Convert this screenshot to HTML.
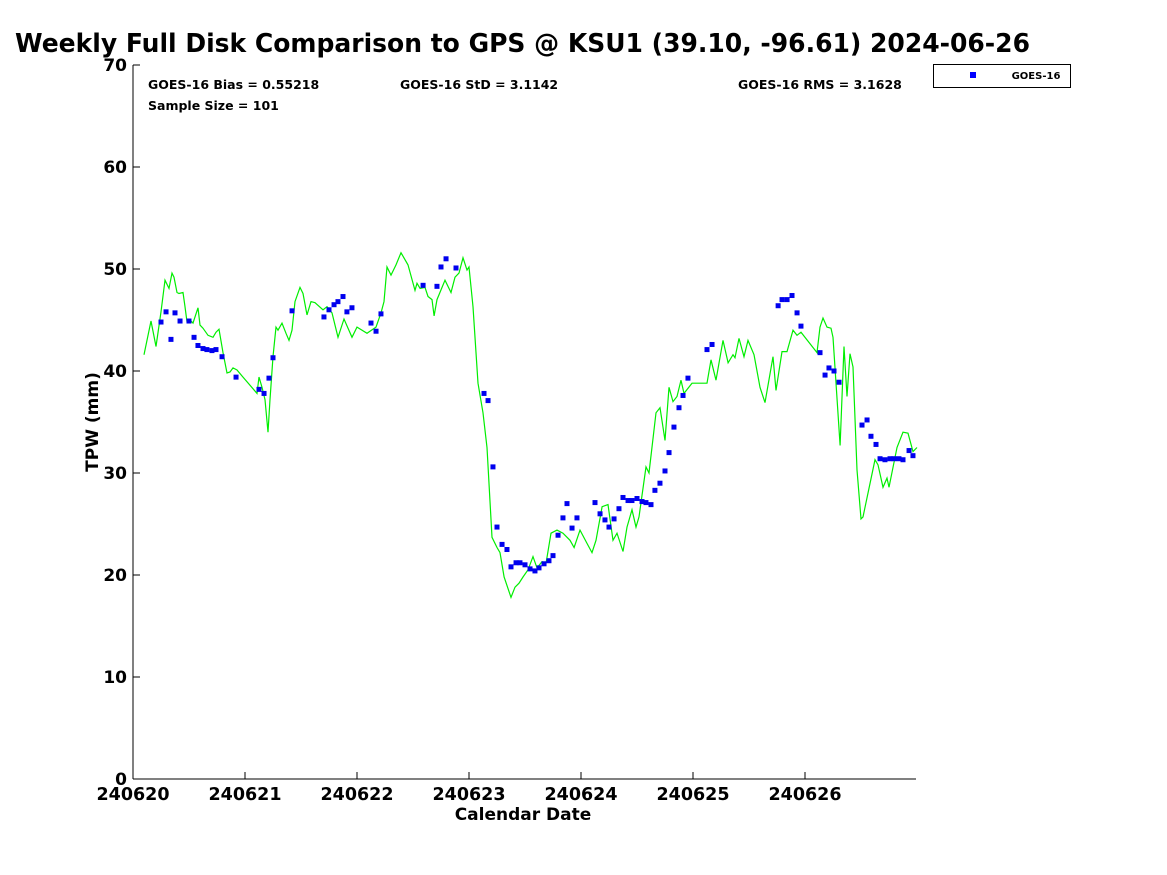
<!DOCTYPE html>
<html><head><meta charset="utf-8"><style>
body{margin:0;background:#fff;}
svg{display:block;font-family:"DejaVu Sans","Liberation Sans",sans-serif;}
</style></head><body>
<svg id="chart" width="1167" height="875" viewBox="0 0 1167 875">
<rect width="1167" height="875" fill="#fff"/>
<text x="15" y="52" font-size="25.5" font-weight="bold" fill="#000" textLength="1015" lengthAdjust="spacingAndGlyphs">Weekly Full Disk Comparison to GPS @ KSU1 (39.10, -96.61) 2024-06-26</text>
<g font-size="12.5" font-weight="bold">
<text x="148" y="89">GOES-16 Bias = 0.55218</text>
<text x="400" y="89">GOES-16 StD = 3.1142</text>
<text x="738" y="89">GOES-16 RMS = 3.1628</text>
<text x="148" y="110">Sample Size = 101</text>
</g>
<g id="axes"></g>
<g id="marks"></g>
<g>
<rect x="933.5" y="64.5" width="137" height="23" fill="#fff" stroke="#000" stroke-width="1"/>
<rect x="970" y="72" width="6" height="6" fill="#0000ff"/>
<text x="1036" y="79" font-size="10" font-weight="bold" text-anchor="middle">GOES-16</text>
</g>
<text transform="translate(98,422) rotate(-90)" font-size="17" font-weight="bold" text-anchor="middle">TPW (mm)</text>
<text x="523" y="820" font-size="17" font-weight="bold" text-anchor="middle">Calendar Date</text>
</svg>
<script>
const xTickLabels=["240620","240621","240622","240623","240624","240625","240626"];
const yTickValues=[0,10,20,30,40,50,60,70];
const gpsDays=[.098,.161,.205,.25,.286,.321,.348,.366,.393,.411,.446,.464,.482,.509,.536,.554,.58,.598,.625,.67,.714,.741,.768,.804,.839,.866,.893,.929,.982,1.107,1.125,1.152,1.179,1.205,1.223,1.25,1.277,1.295,1.33,1.366,1.393,1.42,1.446,1.491,1.518,1.554,1.589,1.625,1.696,1.732,1.777,1.83,1.884,1.955,2.0,2.089,2.17,2.214,2.241,2.268,2.304,2.348,2.393,2.455,2.518,2.536,2.563,2.607,2.634,2.67,2.688,2.714,2.786,2.839,2.875,2.911,2.946,2.982,3.0,3.036,3.08,3.125,3.161,3.205,3.25,3.277,3.313,3.375,3.411,3.446,3.482,3.527,3.571,3.607,3.652,3.688,3.732,3.786,3.839,3.902,3.938,3.991,4.054,4.098,4.134,4.188,4.241,4.286,4.321,4.375,4.411,4.455,4.491,4.518,4.58,4.607,4.67,4.705,4.75,4.786,4.821,4.857,4.893,4.92,4.991,5.125,5.161,5.205,5.268,5.313,5.357,5.375,5.411,5.455,5.491,5.545,5.598,5.643,5.714,5.741,5.795,5.839,5.893,5.929,5.964,6.107,6.134,6.161,6.196,6.232,6.25,6.313,6.348,6.375,6.402,6.429,6.464,6.5,6.518,6.625,6.652,6.696,6.732,6.75,6.821,6.875,6.92,6.964,7.0];
const gpsTpw=[41.6,44.9,42.4,45.8,48.9,48.1,49.6,49.2,47.7,47.6,47.7,46.3,44.8,45.0,44.7,45.3,46.2,44.5,44.2,43.5,43.3,43.8,44.1,41.8,39.8,39.9,40.3,40.1,39.4,37.8,39.4,38.4,37.2,34.0,37.2,41.4,44.3,44.0,44.7,43.7,43.0,44.0,46.8,48.2,47.6,45.5,46.8,46.7,46.0,46.3,45.7,43.3,45.1,43.3,44.3,43.7,44.3,45.7,46.8,50.2,49.4,50.4,51.6,50.4,47.9,48.6,48.1,48.2,47.3,47.0,45.4,47.0,48.9,47.7,49.2,49.6,51.1,49.9,50.2,46.3,38.8,35.9,32.5,23.7,22.7,22.2,19.8,17.8,18.8,19.2,19.8,20.5,21.8,20.7,21.3,21.2,24.1,24.4,24.1,23.4,22.7,24.4,23.1,22.2,23.4,26.7,26.9,23.4,24.1,22.3,24.7,26.4,24.7,25.7,30.6,30.0,35.9,36.4,33.2,38.4,37.0,37.5,39.1,37.8,38.8,38.8,41.1,39.1,43.0,40.8,41.6,41.3,43.2,41.4,43.0,41.6,38.4,36.9,41.4,38.1,41.9,41.9,44.0,43.5,43.8,41.8,44.3,45.2,44.3,44.2,43.3,32.7,42.4,37.5,41.7,40.4,30.3,25.5,25.7,31.3,30.8,28.6,29.5,28.6,32.5,34.0,33.9,32.1,32.5];
const goesDays=[.25,.295,.339,.375,.42,.5,.545,.58,.625,.66,.705,.741,.795,.92,1.125,1.17,1.214,1.25,1.42,1.705,1.75,1.795,1.83,1.875,1.91,1.955,2.125,2.17,2.214,2.59,2.714,2.75,2.795,2.884,3.134,3.17,3.214,3.25,3.295,3.339,3.375,3.42,3.455,3.5,3.545,3.589,3.625,3.67,3.714,3.75,3.795,3.839,3.875,3.92,3.964,4.125,4.17,4.214,4.25,4.295,4.339,4.375,4.42,4.455,4.5,4.545,4.58,4.625,4.66,4.705,4.75,4.786,4.83,4.875,4.911,4.955,5.125,5.17,5.76,5.795,5.84,5.884,5.929,5.964,6.134,6.179,6.214,6.259,6.304,6.509,6.554,6.589,6.634,6.67,6.714,6.759,6.795,6.839,6.875,6.929,6.964];
const goesTpw=[44.8,45.8,43.1,45.7,44.9,44.9,43.3,42.5,42.2,42.1,42.0,42.1,41.4,39.4,38.2,37.8,39.3,41.3,45.9,45.3,46.0,46.5,46.8,47.3,45.8,46.2,44.7,43.9,45.6,48.4,48.3,50.2,51.0,50.1,37.8,37.1,30.6,24.7,23.0,22.5,20.8,21.2,21.2,21.0,20.6,20.4,20.7,21.1,21.4,21.9,23.9,25.6,27.0,24.6,25.6,27.1,26.0,25.4,24.7,25.5,26.5,27.6,27.3,27.3,27.5,27.2,27.1,26.9,28.3,29.0,30.2,32.0,34.5,36.4,37.6,39.3,42.1,42.6,46.4,47.0,47.0,47.4,45.7,44.4,41.8,39.6,40.3,40.0,38.9,34.7,35.2,33.6,32.8,31.4,31.3,31.4,31.4,31.4,31.3,32.2,31.7];

const NS='http://www.w3.org/2000/svg';
const L=133,R=916,T=65,B=779;
const xS=d=>L+d*112;
const yS=v=>B-(v/70)*(B-T);
function mk(tag,attrs,parent){const e=document.createElementNS(NS,tag);for(const k in attrs)e.setAttribute(k,attrs[k]);parent.appendChild(e);return e;}
const axes=document.getElementById('axes'),marks=document.getElementById('marks');
let e=mk('line',{x1:L,y1:T,x2:L,y2:B,stroke:'#000','stroke-width':1},axes);


e=mk('line',{x1:L,y1:B,x2:R,y2:B,stroke:'#000','stroke-width':1},axes);


yTickValues.forEach(v=>{
  const y=yS(v);
  let t=mk('line',{x1:L,y1:y,x2:L+7,y2:y,stroke:'#000'},axes);
  
  
  let tx=mk('text',{x:L-6,y:y+6,'font-size':17,'font-weight':'bold','text-anchor':'end'},axes);
  tx.textContent=v;
  
  
});
xTickLabels.forEach((lab,i)=>{
  const x=xS(i);
  let t=mk('line',{x1:x,y1:B,x2:x,y2:B-7,stroke:'#000'},axes);
  
  
  let tx=mk('text',{x:x,y:B+21,'font-size':17.5,'font-weight':'bold','text-anchor':'middle'},axes);
  tx.textContent=lab;
  
  
});
const pts=gpsDays.map((d,i)=>xS(d).toFixed(1)+','+yS(gpsTpw[i]).toFixed(1)).join(' ');
const pl=mk('polyline',{points:pts,fill:'none',stroke:'#00ee00','stroke-width':1.2},marks);


goesDays.forEach((d,i)=>{
  const r=mk('rect',{x:xS(d)-2.5,y:yS(goesTpw[i])-2.5,width:5,height:5,fill:'#0000ee'},marks);
  
  
});
</script>
</body></html>
